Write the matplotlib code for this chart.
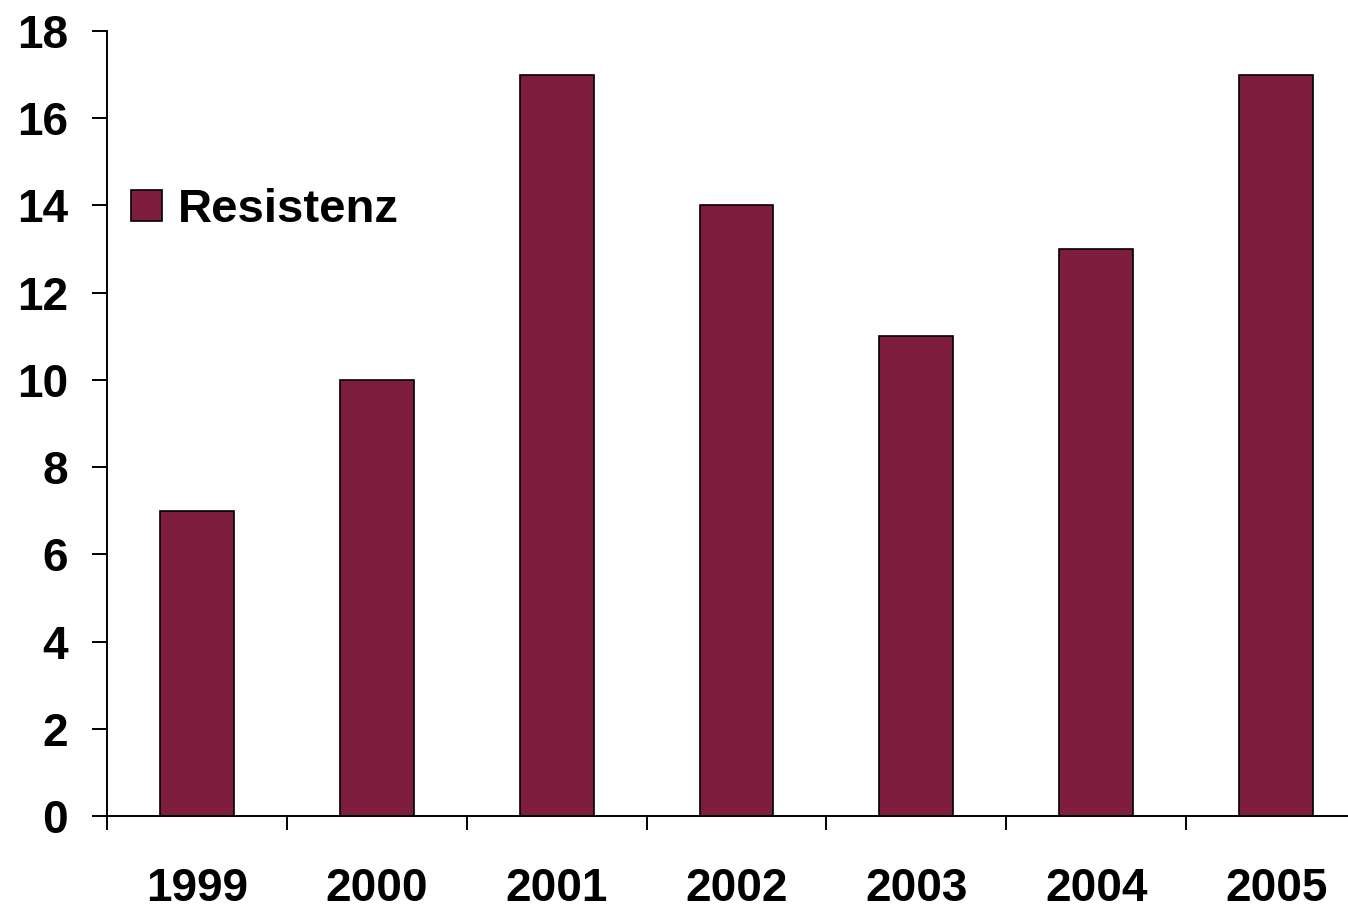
import matplotlib.pyplot as plt
import numpy as np

plt.rcParams['font.family'] = ['Liberation Sans', 'DejaVu Sans']
plt.rcParams['font.weight'] = 'bold'

years = ['1999', '2000', '2001', '2002', '2003', '2004', '2005']
resistenz = [7, 10, 17, 14, 11, 13, 17]
bar_color = '#7E1D3E'

fig = plt.figure(figsize=(13.48, 9.1), dpi=100)
# axis runs a bit past the right edge like in the original
ax = fig.add_axes([107/1348, 94/910, (1366-107)/1348, (816-31)/910])

x = np.arange(len(years))
ax.bar(x, resistenz, width=0.41, color=bar_color, edgecolor='black', linewidth=1.2, label='Resistenz')

ax.set_xlim(-0.5, len(years) - 0.5)
ax.set_ylim(0, 18)
ax.set_yticks(range(0, 19, 2))
ax.set_xticks(x)
ax.set_xticklabels(years)
ax.set_xticks(np.arange(-0.5, len(years), 1), minor=True)

for s in ['top', 'right']:
    ax.spines[s].set_visible(False)
for s in ['left', 'bottom']:
    ax.spines[s].set_linewidth(1.4)

ax.tick_params(axis='y', direction='out', length=11, width=1.4, pad=17, labelsize=33)
ax.tick_params(axis='x', which='major', length=0, pad=37, labelsize=33)
ax.tick_params(axis='x', which='minor', direction='out', length=10, width=1.4)

ax.legend(loc='center left', bbox_to_anchor=(131/1348, 1 - 210/910), bbox_transform=fig.transFigure,
          frameon=False, fontsize=34, handlelength=0.66, handleheight=0.66, handletextpad=0.33,
          borderpad=0, borderaxespad=0)

fig.savefig('out.png', dpi=100)
